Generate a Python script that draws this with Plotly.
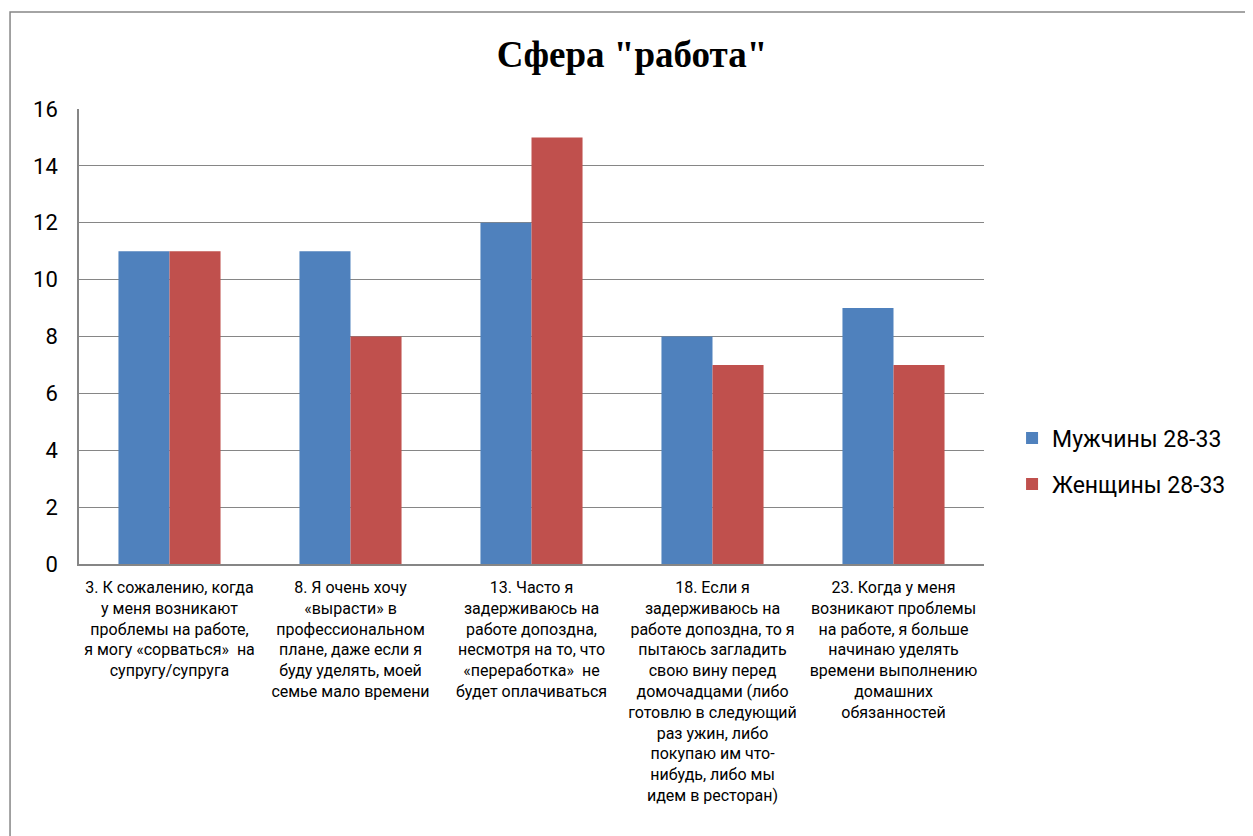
import plotly.graph_objects as go

categories = [
    "3. К сожалению, когда<br>у меня возникают<br>проблемы на работе,<br>я могу «сорваться»  на<br>супругу/супруга",
    "8. Я очень хочу<br>«вырасти» в<br>профессиональном<br>плане, даже если я<br>буду уделять, моей<br>семье мало времени",
    "13. Часто я<br>задерживаюсь на<br>работе допоздна,<br>несмотря на то, что<br>«переработка»  не<br>будет оплачиваться",
    "18. Если я<br>задерживаюсь на<br>работе допоздна, то я<br>пытаюсь загладить<br>свою вину перед<br>домочадцами (либо<br>готовлю в следующий<br>раз ужин, либо<br>покупаю им что-<br>нибудь, либо мы<br>идем в ресторан)",
    "23. Когда у меня<br>возникают проблемы<br>на работе, я больше<br>начинаю уделять<br>времени выполнению<br>домашних<br>обязанностей",
]
men = [11, 11, 12, 8, 9]
women = [11, 8, 15, 7, 7]
series_names = ["Мужчины 28-33", "Женщины 28-33"]
y_ticks = [0, 2, 4, 6, 8, 10, 12, 14, 16]

FONT = "Roboto"
GRID = "#868686"

fig = go.Figure()
fig.add_trace(go.Bar(x=categories, y=men, name=series_names[0],
                     marker=dict(color="#4F81BD", line=dict(width=0)),
                     legendgroup="a"))
fig.add_trace(go.Bar(x=categories, y=women, name=series_names[1],
                     marker=dict(color="#C0504D", line=dict(width=0)),
                     legendgroup="b"))

# page body has an 8px margin, so the figure is drawn 8px in from the top-left
fig.update_layout(
    width=1245, height=828,
    margin=dict(l=71, r=269, t=101, b=272, autoexpand=False),
    paper_bgcolor="white", plot_bgcolor="white",
    barmode="group", bargap=0.436, bargroupgap=0,
    title=dict(text="<b>Сфера \"работа\"</b>", x=0.5012, xanchor="center",
               y=0.944, yanchor="middle",
               font=dict(family="Liberation Serif", size=37, color="black")),
    legend=dict(x=1.031, xanchor="left", y=0.226, yanchor="middle",
                font=dict(family=FONT, size=23, color="black"),
                tracegroupgap=13, itemwidth=30, bgcolor="rgba(0,0,0,0)"),
    showlegend=True,
    xaxis=dict(showline=True, linecolor=GRID, linewidth=1.5, showgrid=False,
               ticks="", ticklabelstandoff=8, tickangle=0,
               tickfont=dict(family=FONT, size=16, color="black")),
    yaxis=dict(range=[0, 16], tickvals=y_ticks, showgrid=True,
               gridcolor=GRID, gridwidth=1, showline=True, linecolor=GRID,
               linewidth=1.5, zeroline=False,
               ticks="outside", ticklen=15, tickcolor="rgba(0,0,0,0)",
               tickfont=dict(family=FONT, size=22, color="black")),
    shapes=[dict(type="rect", xref="paper", yref="paper",
                 x0=-0.0762, x1=1.6, y0=-1.0, y1=1.213,
                 line=dict(color=GRID, width=1.5), layer="below")],
)

fig.write_html("out.html")
